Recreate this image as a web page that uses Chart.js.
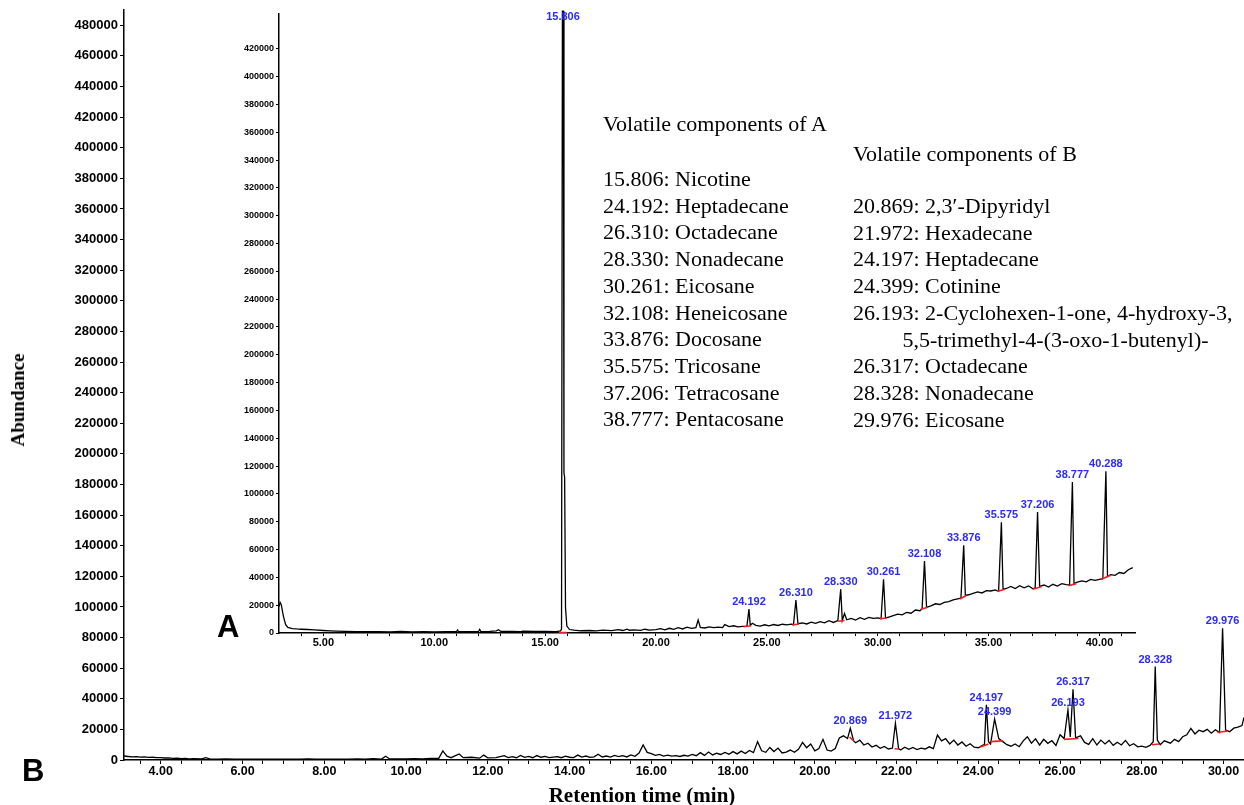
<!DOCTYPE html>
<html>
<head>
<meta charset="utf-8">
<script src="https://cdn.jsdelivr.net/npm/chart.js@4.4.0/dist/chart.umd.min.js"></script>
<style>
  html, body { margin: 0; padding: 0; background: #fff; }
  #wrap { position: relative; width: 1244px; height: 805px; overflow: hidden; }
  canvas { position: absolute; left: 0; top: 0; }
  .note { position: absolute; font-family: 'Liberation Serif', 'DejaVu Serif', serif; font-size: 22px; color: #000; white-space: pre; line-height: 26.7px; }
  .tag { position: absolute; font-family: 'Liberation Sans', Arial, sans-serif; font-weight: bold; font-size: 31px; line-height: 31px; color: #000; }
  .axtitle { position: absolute; font-family: 'Liberation Serif', serif; font-weight: bold; color: #000; white-space: nowrap; }
</style>
</head>
<body>
<div id="wrap">
  <canvas id="chartB" width="1244" height="805"></canvas>
  <canvas id="chartA" width="1244" height="805"></canvas>

  <div class="note" style="left:603px; top:111px;">Volatile components of A</div>
  <div class="note" style="left:603px; top:166px;">15.806: Nicotine
24.192: Heptadecane
26.310: Octadecane
28.330: Nonadecane
30.261: Eicosane
32.108: Heneicosane
33.876: Docosane
35.575: Tricosane
37.206: Tetracosane
38.777: Pentacosane</div>

  <div class="note" style="left:853px; top:141px;">Volatile components of B</div>
  <div class="note" style="left:853px; top:193px;">20.869: 2,3′-Dipyridyl
21.972: Hexadecane
24.197: Heptadecane
24.399: Cotinine
26.193: 2-Cyclohexen-1-one, 4-hydroxy-3,
         5,5-trimethyl-4-(3-oxo-1-butenyl)-
26.317: Octadecane
28.328: Nonadecane
29.976: Eicosane</div>

  <div class="tag" style="left:217px; top:611px;">A</div>
  <div class="tag" style="left:22px; top:755px;">B</div>

  <div class="axtitle" style="font-size:21px; left:642px; top:795px; transform:translate(-50%,-50%);">Retention time (min)</div>
  <div class="axtitle" style="font-size:19px; left:18px; top:400px; transform:translate(-50%,-50%) rotate(-90deg);">Abundance</div>
</div>

<script>
// ---- chromatogram B (outer axes): [retention time, abundance]
const traceB = [
  [3.1,2600],[3.2,2300],[3.3,2000],[3.4,2200],[3.5,1900],[3.6,2000],[3.7,1700],[3.8,1800],[3.9,1500],
  [4.0,1600],[4.1,1300],[4.2,1400],[4.3,1100],[4.4,1200],[4.5,900],[4.6,1100],[4.7,800],[4.8,900],
  [5.0,700],[5.1,1500],[5.2,700],[5.4,600],[5.6,700],[5.8,500],[6.0,600],[6.2,500],[6.4,600],[6.6,500],
  [6.8,600],[7.0,500],[7.2,600],[7.4,500],[7.6,700],[7.8,500],[8.0,600],[8.2,500],[8.4,600],[8.6,500],
  [8.8,700],[9.0,500],[9.2,800],[9.4,600],[9.5,2500],[9.6,700],[9.8,800],[10.0,700],[10.2,900],[10.4,800],
  [10.6,1000],[10.8,1100],[10.9,6000],[11.0,2500],[11.1,1500],[11.3,3900],[11.4,1500],[11.6,1800],[11.8,1200],
  [11.9,3200],[12.0,1400],[12.2,1500],[12.4,2800],[12.5,1600],[12.6,2200],[12.7,1500],[12.8,3000],[12.9,1700],
  [13.0,2400],[13.1,1500],[13.2,2900],[13.3,1800],[13.4,2300],[13.5,1600],[13.7,2200],[13.8,1500],[13.9,2500],
  [14.0,1800],[14.1,1600],[14.2,3200],[14.3,1900],[14.4,2600],[14.5,1700],[14.6,2100],[14.7,3800],[14.8,2000],
  [14.9,2600],[15.0,1900],[15.1,3000],[15.2,2200],[15.3,2800],[15.4,2000],[15.5,3300],[15.6,2400],[15.7,4500],
  [15.8,9800],[15.9,5000],[16.0,4200],[16.1,3000],[16.2,3600],[16.3,2600],[16.4,3200],[16.5,2500],[16.6,2900],
  [16.7,2300],[16.8,3100],[16.9,2500],[17.0,3600],[17.1,2800],[17.2,4800],[17.3,3000],[17.4,5200],[17.5,3300],
  [17.6,4400],[17.7,3600],[17.8,4900],[17.9,3800],[18.0,5500],[18.1,4000],[18.2,5800],[18.3,4200],[18.4,6200],
  [18.5,4800],[18.6,12000],[18.7,6000],[18.8,5000],[18.9,8200],[19.0,5500],[19.1,7800],[19.2,4600],[19.3,5200],
  [19.4,6500],[19.5,5000],[19.6,7000],[19.7,11500],[19.8,8000],[19.9,10500],[20.0,6000],[20.1,7500],[20.2,13500],
  [20.3,6500],[20.4,5800],[20.5,7500],[20.6,14400],[20.7,15800],[20.8,14000],[20.869,20700],[20.95,12500],
  [21.0,11300],[21.1,13000],[21.2,9800],[21.3,11000],[21.4,8500],[21.5,9600],[21.6,7600],[21.7,8800],[21.8,7200],
  [21.9,7800],[21.972,24000],[22.05,7400],[22.1,6500],[22.2,8400],[22.3,7000],[22.4,8200],[22.5,6800],[22.6,7800],
  [22.7,7200],[22.8,8600],[22.9,7400],[23.0,16300],[23.1,12500],[23.2,14000],[23.3,10500],[23.4,13000],[23.5,9800],
  [23.6,11800],[23.7,9000],[23.8,10600],[23.9,8400],[24.0,8000],[24.1,9500],[24.15,10000],[24.197,36000],
  [24.25,12000],[24.3,10500],[24.399,26800],[24.5,14000],[24.6,12000],[24.7,10000],[24.8,9000],[24.9,10500],
  [25.0,8700],[25.1,12500],[25.2,15200],[25.3,11000],[25.4,13800],[25.5,9800],[25.6,13500],[25.7,10900],
  [25.8,12600],[25.9,9500],[26.0,16500],[26.1,14000],[26.193,32700],[26.25,15000],[26.317,46200],[26.38,14500],
  [26.5,15800],[26.6,11500],[26.7,10200],[26.8,14000],[26.9,9800],[27.0,13000],[27.1,10500],[27.2,12800],
  [27.3,9600],[27.4,11600],[27.5,9800],[27.6,12800],[27.7,9300],[27.8,10600],[27.9,8600],[28.0,9000],[28.1,8300],
  [28.2,9500],[28.28,12000],[28.328,61000],[28.38,13000],[28.45,10000],[28.55,12500],[28.7,11000],[28.8,13500],
  [28.9,12000],[29.0,15200],[29.1,16500],[29.2,20700],[29.3,17000],[29.4,19500],[29.5,18500],[29.6,20000],
  [29.7,17500],[29.8,19800],[29.9,18000],[29.976,86000],[30.05,19500],[30.15,18500],[30.25,20800],[30.35,21500],
  [30.45,22500],[30.5,27900]
];

// ---- chromatogram A (inset axes)
const traceA = [
  [3.0,19000],[3.05,22000],[3.1,20500],[3.2,12000],[3.3,6000],[3.4,4000],[3.6,3200],[3.8,2900],[4.0,2700],
  [4.3,2500],[4.6,2300],[5.0,1800],[5.3,1500],[5.6,1300],[6.0,1100],[6.5,1000],[7.0,900],[7.5,1000],[8.0,800],
  [8.5,1100],[9.0,800],[9.5,900],[10.0,800],[10.5,1000],[11.0,900],[11.05,2200],[11.1,900],[11.5,1000],
  [12.0,1100],[12.05,2600],[12.1,1000],[12.5,1200],[12.8,1500],[12.9,2400],[13.0,1100],[13.5,1200],[13.9,1000],
  [14.0,1300],[14.5,1100],[15.0,1200],[15.5,1000],[15.7,1500],[15.74,3000],[15.78,447000],[15.82,447000],
  [15.85,115000],[15.88,112000],[15.92,18000],[15.98,5000],[16.1,2500],[16.3,2000],[16.6,1600],[17.0,1800],
  [17.3,1500],[17.6,2000],[18.0,1700],[18.3,2400],[18.5,1800],[18.7,2800],[18.8,2000],[19.0,2300],[19.3,1900],
  [19.5,2700],[19.7,2100],[20.0,2400],[20.2,3200],[20.4,2300],[20.6,3400],[20.8,2600],[21.0,3800],[21.2,2900],
  [21.4,4200],[21.6,3400],[21.8,3800],[21.9,9300],[22.0,4000],[22.2,3600],[22.4,4400],[22.6,3800],[22.8,4200],
  [23.0,3900],[23.1,6000],[23.3,4600],[23.5,5200],[23.7,4400],[23.9,4800],[24.1,5000],[24.192,17200],[24.25,5600],
  [24.35,7000],[24.5,5500],[24.7,5000],[24.9,5900],[25.1,5200],[25.3,6100],[25.5,5400],[25.7,6300],[25.9,5900],
  [26.1,6400],[26.2,6000],[26.31,23700],[26.4,6800],[26.6,7200],[26.8,6500],[27.0,7800],[27.2,6900],[27.4,8200],
  [27.6,7300],[27.8,8800],[28.0,7600],[28.2,8900],[28.33,31500],[28.4,9000],[28.5,14000],[28.6,9500],[28.8,10500],
  [29.0,9300],[29.2,11000],[29.4,9800],[29.6,11200],[29.8,10500],[30.0,10800],[30.15,10300],[30.261,38700],
  [30.35,10800],[30.5,11500],[30.7,12500],[30.9,13500],[31.1,13000],[31.3,14800],[31.5,14200],[31.7,16500],
  [31.9,16000],[32.0,17500],[32.108,51800],[32.2,18500],[32.4,19500],[32.6,21000],[32.8,20500],[33.0,22000],
  [33.2,22500],[33.4,23800],[33.6,24500],[33.75,25000],[33.876,63000],[33.95,27000],[34.1,27500],[34.3,28500],
  [34.5,29500],[34.7,28800],[34.9,30500],[35.1,30200],[35.3,31000],[35.45,30000],[35.575,79600],[35.65,31500],
  [35.8,32000],[36.0,33500],[36.2,32000],[36.4,34000],[36.6,32500],[36.8,33800],[37.0,31800],[37.1,32500],
  [37.206,87000],[37.3,33500],[37.5,34500],[37.7,33000],[37.9,35000],[38.1,33800],[38.3,35500],[38.5,34800],
  [38.65,34500],[38.777,108500],[38.85,35500],[39.0,36500],[39.2,37500],[39.4,36800],[39.6,38500],[39.8,37800],
  [40.0,38500],[40.15,39000],[40.288,116300],[40.36,40500],[40.5,42000],[40.7,41500],[40.9,43500],[41.1,42800],
  [41.3,45500],[41.5,47000]
];

// labelled peaks: retention time and apex abundance
const aPeakTimes = [15.806, 24.192, 26.310, 28.330, 30.261, 32.108, 33.876, 35.575, 37.206, 38.777, 40.288];
const aPeakTops  = [447000, 17200, 23700, 31500, 38700, 51800, 63000, 79600, 87000, 108500, 116300];
const bPeakTimes = [20.869, 21.972, 24.197, 24.399, 26.193, 26.317, 28.328, 29.976];
const bPeakTops  = [20700, 24000, 36000, 26800, 32700, 46200, 61000, 86000];

// integration baselines (red): [t1, y1, t2, y2]
const aBaseMarks = [
  [15.62,300,15.98,300],[23.95,4500,24.3,5200],[26.15,5800,26.45,6500],[28.2,8500,28.5,9000],
  [30.1,10200,30.4,10800],[31.95,17000,32.25,18500],[33.7,24500,34.0,27000],[35.4,30000,35.75,31500],
  [37.0,31500,37.4,33500],[38.6,34000,38.95,35500],[40.05,38500,40.5,41500]
];
const bBaseMarks = [
  [20.85,15000,20.95,12500],[21.95,7400,22.05,7200],[24.05,8500,24.25,10500],[24.3,12000,24.6,12500],
  [26.1,13500,26.45,14000],[28.25,10000,28.42,10500],[29.85,18000,30.1,19000]
];

// tick values
const bXTicks = Array.from({length: 55}, (_, i) => 3.5 + i / 2);      // 3.5 ... 30.5
const bYTicks = Array.from({length: 25}, (_, i) => i * 20000);        // 0 ... 480000
const aXTicks = Array.from({length: 38}, (_, i) => 4 + i);            // 4 ... 41
const aYTicks = Array.from({length: 22}, (_, i) => i * 20000);        // 0 ... 420000

const sans = "'Liberation Sans', Arial, sans-serif";

function toXY(pairs) { return pairs.map(p => ({x: p[0], y: p[1]})); }
function markData(marks) {
  const out = [];
  marks.forEach(m => out.push({x: m[0], y: m[1]}, {x: m[2], y: m[3]}, {x: m[2], y: null}));
  return out;
}
function peakLabels(times, tops) {
  return {
    id: 'peakLabels',
    afterDatasetsDraw(chart) {
      const {ctx, chartArea} = chart;
      const x = chart.scales.x, y = chart.scales.y;
      ctx.save();
      ctx.font = 'bold 11px ' + sans;
      ctx.fillStyle = '#2a2aff';
      ctx.textAlign = 'center';
      ctx.textBaseline = 'middle';
      times.forEach((t, i) => {
        const px = x.getPixelForValue(t);
        const py = Math.max(y.getPixelForValue(tops[i]) - 7, chartArea.top + 3);
        ctx.fillText(t.toFixed(3), px, py);
      });
      ctx.restore();
    }
  };
}

function makeChart(id, cfg) {
  return new Chart(document.getElementById(id), {
    type: 'line',
    data: {
      datasets: [
        { data: markData(cfg.marks), borderColor: '#ff1a1a', borderWidth: 1.6, pointRadius: 0, spanGaps: false },
        { data: toXY(cfg.trace), borderColor: '#000', borderWidth: 1.3, pointRadius: 0, tension: 0, clip: false }
      ]
    },
    options: {
      responsive: false,
      animation: false,
      events: [],
      layout: { padding: cfg.padding },
      plugins: { legend: { display: false }, tooltip: { enabled: false } },
      scales: {
        x: {
          type: 'linear', min: cfg.xMin, max: cfg.xMax,
          afterBuildTicks: s => { s.ticks = cfg.xTicks.map(v => ({value: v})); },
          afterFit: s => { s.height = cfg.xHeight; },
          ticks: {
            autoSkip: false, maxRotation: 0, padding: 0, color: '#000',
            font: { family: sans, size: cfg.xFont, weight: 'bold' },
            callback: v => (v % cfg.xLabelEvery === 0 ? v.toFixed(2) : '')
          },
          grid: { drawOnChartArea: false, tickLength: cfg.tickLen, color: '#000' },
          border: { color: '#000', width: 1.5 }
        },
        y: {
          min: 0, max: cfg.yMax,
          afterBuildTicks: s => { s.ticks = cfg.yTicks.map(v => ({value: v})); },
          afterFit: s => { s.width = cfg.yWidth; },
          ticks: {
            padding: 2, color: '#000',
            font: { family: sans, size: cfg.yFont, weight: 'bold' },
            callback: v => String(v)
          },
          grid: { drawOnChartArea: false, tickLength: cfg.tickLen, color: '#000' },
          border: { color: '#000', width: 1.5 }
        }
      }
    },
    plugins: [peakLabels(cfg.peakTimes, cfg.peakTops)]
  });
}

makeChart('chartB', {
  trace: traceB, marks: bBaseMarks, peakTimes: bPeakTimes, peakTops: bPeakTops,
  xMin: 3.1, xMax: 30.5, yMax: 490000, xTicks: bXTicks, yTicks: bYTicks, xLabelEvery: 2,
  padding: { top: 10, left: 0, right: 0, bottom: 0 }, xHeight: 45, yWidth: 124,
  xFont: 12.5, yFont: 13, tickLen: 4
});

makeChart('chartA', {
  trace: traceA, marks: aBaseMarks, peakTimes: aPeakTimes, peakTops: aPeakTops,
  xMin: 3.0, xMax: 41.6, yMax: 445000, xTicks: aXTicks, yTicks: aYTicks, xLabelEvery: 5,
  padding: { top: 14, left: 219, right: 109, bottom: 147 }, xHeight: 25, yWidth: 60,
  xFont: 11, yFont: 9, tickLen: 3
});
</script>
</body>
</html>
